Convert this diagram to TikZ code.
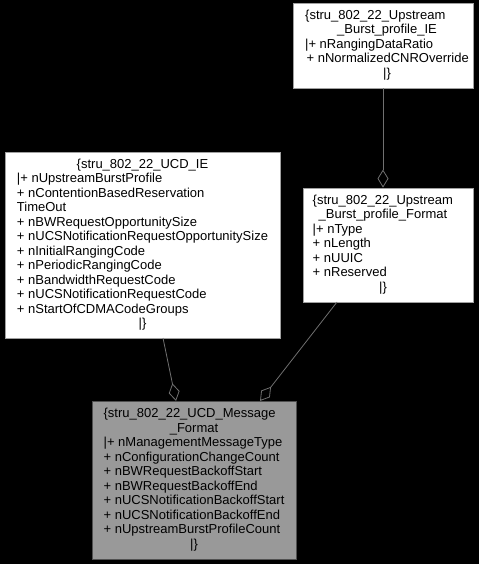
\documentclass[tikz,border=0pt]{standalone}
\usepackage{fontspec}
\setmainfont{Liberation Sans}
\usetikzlibrary{arrows.meta}
\definecolor{edgegray}{HTML}{707070}
\definecolor{boxborder}{HTML}{A0A0A0}
\definecolor{mainfill}{HTML}{999999}
\definecolor{mainborder}{HTML}{505050}
\newcommand{\cl}[1]{\multicolumn{1}{c}{#1}}
\tikzset{
  classbox/.style={draw=boxborder, fill=white, inner sep=0pt, line width=0.8pt,
    font=\fontsize{13}{14.5}\selectfont, text=black},
  mainbox/.style={classbox, draw=mainborder, fill=mainfill},
  assoc/.style={draw=edgegray, line width=0.8pt,
    -{Diamond[open, length=18pt, width=11pt, line width=0.8pt]}},
}
\begin{document}
\begin{tikzpicture}[x=1pt,y=-1pt]
\fill[black] (0,0) rectangle (479,564);
\useasboundingbox (0,0) rectangle (479,564);

\node[classbox, minimum width=180pt, minimum height=85pt] (A) at (383,45.5)
  {\hspace*{4pt}\begin{tabular}{@{}l@{}}
  {\{}stru\_802\_22\_Upstream\\
  \cl{\_Burst\_profile\_IE}\\
  |+ nRangingDataRatio\\
  \hspace*{1.5pt}+ nNormalizedCNROverride\\
  \cl{|\}}
  \end{tabular}\hspace*{-4pt}};

\node[classbox, minimum width=170pt, minimum height=114pt] (B) at (388,245)
  {\hspace*{-5pt}\begin{tabular}{@{}l@{}}
  {\{}stru\_802\_22\_Upstream\\
  \cl{\_Burst\_profile\_Format}\\
  |+ nType\\
  + nLength\\
  + nUUIC\\
  + nReserved\\
  \cl{|\}}
  \end{tabular}\hspace*{5pt}};

\node[classbox, minimum width=275pt, minimum height=186pt] (C) at (142.5,245)
  {\begin{tabular}{@{}l@{}}
  \cl{\{stru\_802\_22\_UCD\_IE}\\
  |+ nUpstreamBurstProfile\\
  + nContentionBasedReservation\\
  TimeOut\\
  + nBWRequestOpportunitySize\\
  + nUCSNotificationRequestOpportunitySize\\
  + nInitialRangingCode\\
  + nPeriodicRangingCode\\
  + nBandwidthRequestCode\\
  + nUCSNotificationRequestCode\\
  + nStartOfCDMACodeGroups\\
  \cl{|\}}
  \end{tabular}};

\node[mainbox, minimum width=204pt, minimum height=158pt] (D) at (194,480)
  {\begin{tabular}{@{}l@{}}
  {\{}stru\_802\_22\_UCD\_Message\\
  \cl{\_Format}\\
  |+ nManagementMessageType\\
  + nConfigurationChangeCount\\
  + nBWRequestBackoffStart\\
  + nBWRequestBackoffEnd\\
  + nUCSNotificationBackoffStart\\
  + nUCSNotificationBackoffEnd\\
  + nUpstreamBurstProfileCount\\
  \cl{|\}}
  \end{tabular}};

\coordinate (a1) at (A.south);
\coordinate (b1) at (a1 |- B.north);
\coordinate (c1) at (163,338);
\coordinate (d1) at (176,401);
\coordinate (b2) at (337,302);
\coordinate (d2) at (260,401);

\draw[assoc] (a1) -- (b1);
\draw[assoc] (c1) -- (d1);
\draw[assoc] (b2) -- (d2);
\end{tikzpicture}
\end{document}
